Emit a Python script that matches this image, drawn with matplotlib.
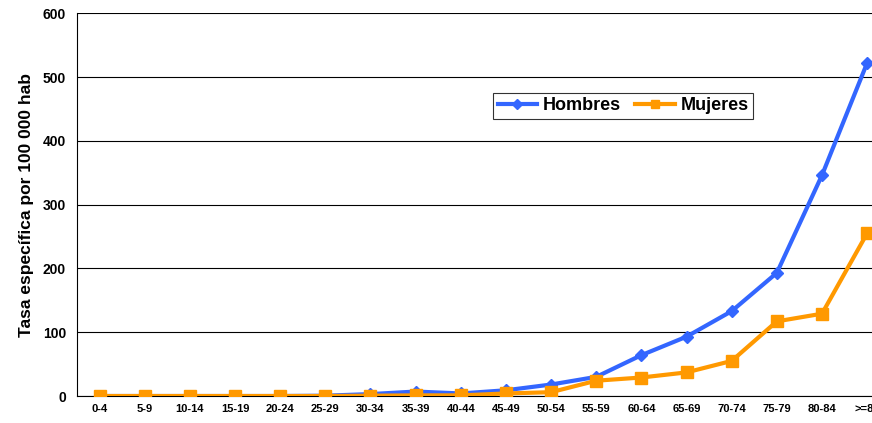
import matplotlib.pyplot as plt

plt.rcParams['font.family'] = ['Liberation Sans', 'DejaVu Sans']

grupos = ['0-4', '5-9', '10-14', '15-19', '20-24', '25-29', '30-34', '35-39', '40-44',
          '45-49', '50-54', '55-59', '60-64', '65-69', '70-74', '75-79', '80-84', '>=85']
hombres = [0, 0, 0, 0, 0, 0.5, 3, 7, 4, 9, 18, 30, 64, 93, 133, 193, 346, 522]
mujeres = [0, 0, 0, 0, 0, 0, 0.5, 1, 1, 4, 6, 24, 29, 37, 55, 117, 129, 255]

fig = plt.figure(figsize=(8.72, 4.23), dpi=100)
ax = fig.add_axes([0.0883, 0.0638, 0.932, 0.905])

x = list(range(len(grupos)))
ax.plot(x, hombres, '-D', color='#3366FF', lw=3, markersize=6, label='Hombres', zorder=3)
ax.plot(x, mujeres, '-s', color='#FF9900', lw=3, markersize=8, label='Mujeres', zorder=4)

ax.set_xlim(-0.5, len(grupos) - 0.5)
ax.set_ylim(0, 600)
ax.set_yticks(range(0, 601, 100))
ax.set_xticks(x)
ax.set_xticklabels(grupos)
ax.yaxis.grid(True, color='black', lw=0.8)
ax.set_axisbelow(True)
for s in ['top', 'right']:
    ax.spines[s].set_visible(False)
ax.tick_params(length=0)
for lab in ax.get_xticklabels():
    lab.set_fontweight('bold')
    lab.set_fontsize(8)
for lab in ax.get_yticklabels():
    lab.set_fontweight('bold')
    lab.set_fontsize(10)
ax.tick_params(axis='y', pad=8)
ax.tick_params(axis='x', pad=6)
ax.set_ylabel('Tasa específica por 100 000 hab', fontweight='bold', fontsize=12.5, labelpad=6)

leg = ax.legend(loc='center', bbox_to_anchor=(623 / 872, 1 - 106 / 423),
                bbox_transform=fig.transFigure, ncol=2, frameon=True, fancybox=False,
                edgecolor='black', prop={'weight': 'bold', 'size': 13},
                handlelength=2.2, columnspacing=0.8, handletextpad=0.3,
                borderpad=0.25, markerscale=0.8)
leg.get_frame().set_linewidth(0.8)

fig.savefig('out.png', dpi=100)
